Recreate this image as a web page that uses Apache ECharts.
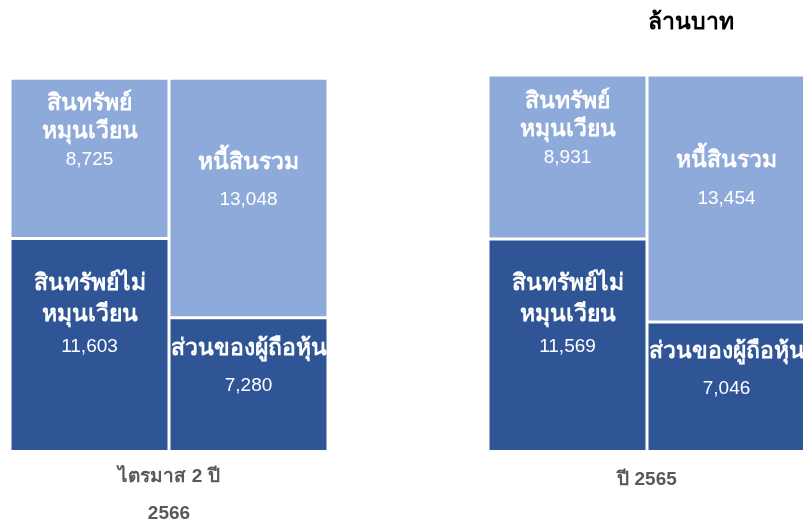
<!DOCTYPE html>
<html><head><meta charset="utf-8">
<script src="https://cdn.jsdelivr.net/npm/echarts@6/dist/echarts.min.js"></script>
<style>html,body{margin:0;padding:0;background:#fff}#c{width:803px;height:519px}</style>
</head><body><div id="c"></div>
<script>
const categories = ['ไตรมาส 2 ปี\n2566', 'ปี 2565'];
const currentAssets = [8725, 8931];
const nonCurrentAssets = [11603, 11569];
const totalLiabilities = [13048, 13454];
const equity = [7280, 7046];
const names = {
  ca: 'สินทรัพย์\nหมุนเวียน',
  nca: 'สินทรัพย์ไม่\nหมุนเวียน',
  tl: 'หนี้สินรวม',
  eq: 'ส่วนของผู้ถือหุ้น'
};
const LIGHT = '#8EAADB', DARK = '#2F5597';
const mixFont = '"Liberation Sans", Arial, "Noto Sans", sans-serif';
const fmtNum = v => v.toLocaleString('en-US');
function mkLabel(title, lh) {
  return {
    show: true,
    align: 'center',
    verticalAlign: 'middle',
    formatter: p => title.split('\n').map(t => '{t|' + t + '}').join('\n') + '\n{n|' + fmtNum(p.value) + '}',
    rich: {
      t: { color: '#fff', fontSize: 23, fontWeight: 'bold', fontFamily: mixFont, lineHeight: lh[0] },
      n: { color: '#fff', fontSize: 19, fontFamily: mixFont, lineHeight: lh[1] }
    }
  };
}
function mkData(arr, offs) {
  return arr.map((v, i) => ({ value: v, label: { position: ['50%', offs[i]] } }));
}
const BW = 159;
const barStyle = { borderColor: '#fff', borderWidth: 1.5 };
const chart = echarts.init(document.getElementById('c'));
chart.setOption({
  animation: false,
  title: {
    text: 'ล้านบาท', left: 686, top: 6, textAlign: 'center',
    textStyle: { fontSize: 23, fontWeight: 'bold', color: '#000', fontFamily: mixFont }
  },
  grid: { left: -70, right: -83, top: 47.5, bottom: 67.5, containLabel: false, outerBoundsMode: 'none' },
  xAxis: {
    type: 'category', data: categories,
    axisLine: { show: false }, axisTick: { show: false },
    axisLabel: {
      margin: 7,
      formatter: v => v.indexOf('\n') >= 0 ? v.split('\n').map(s => '{a|' + s + '}').join('\n') : '{b|' + v + '}',
      rich: {
        a: { fontSize: 19, fontWeight: 'bold', color: '#595959', fontFamily: mixFont, lineHeight: 37 },
        b: { fontSize: 19, fontWeight: 'bold', color: '#595959', fontFamily: mixFont, lineHeight: 37, padding: [5, 0, 0, 0] }
      }
    }
  },
  yAxis: { type: 'value', min: 0, max: 22000, show: false, splitLine: { show: false } },
  series: [
    { name: 'nca', type: 'bar', stack: 'a', barWidth: BW, barGap: '0%', itemStyle: Object.assign({ color: DARK }, barStyle),
      label: mkLabel(names.nca, [31, 33]), data: mkData(nonCurrentAssets, [77, 77]) },
    { name: 'ca', type: 'bar', stack: 'a', barWidth: BW, barGap: '0%', itemStyle: Object.assign({ color: LIGHT }, barStyle),
      label: mkLabel(names.ca, [28, 29]), data: mkData(currentAssets, [54, 55]) },
    { name: 'eq', type: 'bar', stack: 'b', barWidth: BW, barGap: '0%', itemStyle: Object.assign({ color: DARK }, barStyle),
      label: mkLabel(names.eq, [37, 37]), data: mkData(equity, [49.5, 48.5]) },
    { name: 'tl', type: 'bar', stack: 'b', barWidth: BW, barGap: '0%', itemStyle: Object.assign({ color: LIGHT }, barStyle),
      label: mkLabel(names.tl, [38, 38]), data: mkData(totalLiabilities, [103, 105]) }
  ]
});
</script></body></html>
